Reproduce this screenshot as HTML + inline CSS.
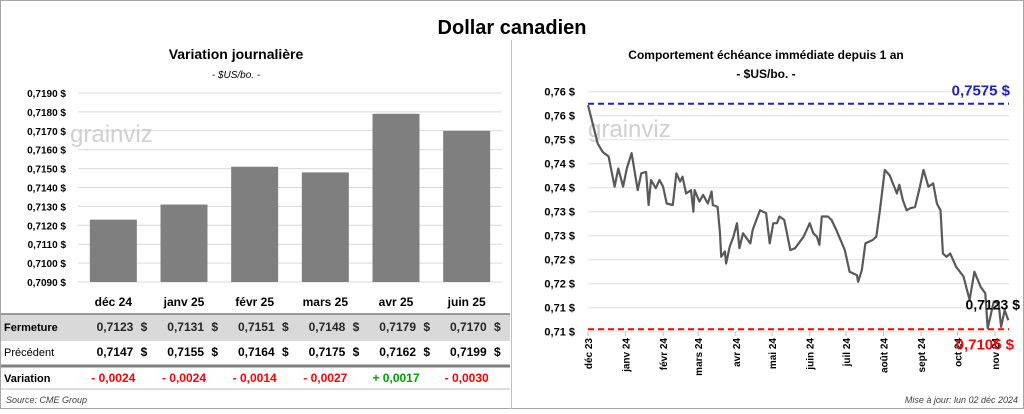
<!DOCTYPE html>
<html><head><meta charset="utf-8"><style>
body{margin:0;width:1024px;height:409px;background:#fff;font-family:"Liberation Sans",sans-serif;overflow:hidden}
svg text{font-family:"Liberation Sans",sans-serif}
</style></head><body>
<svg id="c" width="1024" height="409" viewBox="0 0 1024 409">
<rect x="0.5" y="0.5" width="1023" height="408" fill="#fff" stroke="#a6a6a6"/>
<line x1="511.5" y1="40" x2="511.5" y2="409" stroke="#bfbfbf"/>
<text x="512" y="34" text-anchor="middle" font-size="20" font-weight="bold">Dollar canadien</text>
<text x="236" y="59" text-anchor="middle" font-size="14" font-weight="bold">Variation  journalière</text>
<text x="236" y="78" text-anchor="middle" font-size="10" font-style="italic">- $US/bo. -</text>
<text x="766" y="59" text-anchor="middle" font-size="12" font-weight="bold">Comportement échéance immédiate depuis 1 an</text>
<text x="766" y="78" text-anchor="middle" font-size="12" font-weight="bold">- $US/bo. -</text>
<g id="left"></g>
<g id="table"></g>
<g id="right"></g>
<text x="6" y="403" font-size="9" font-style="italic" fill="#404040">Source: CME Group</text>
<text x="1018" y="403" text-anchor="end" font-size="9" font-style="italic" fill="#404040">Mise à jour: lun 02 déc 2024</text>
</svg>
<script>
const barCats=["déc 24","janv 25","févr 25","mars 25","avr 25","juin 25"];
const closeVals=[0.7123,0.7131,0.7151,0.7148,0.7179,0.7170];
const prevVals=[0.7147,0.7155,0.7164,0.7175,0.7162,0.7199];
const varVals=[-0.0024,-0.0024,-0.0014,-0.0027,0.0017,-0.0030];
const barTicks=[0.709,0.710,0.711,0.712,0.713,0.714,0.715,0.716,0.717,0.718,0.719];
const lineDays=[0,8,12,17,22,25,29,32,36,41,44,48,50,52,56,59,62,65,70,73,76,78,81,85,87,88,92,95,99,102,103,107,109,110,113,114,117,120,123,125,128,134,136,142,147,150,153,156,158,162,164,167,171,178,183,186,189,191,193,198,201,205,212,216,222,223,226,229,235,238,241,245,249,255,257,260,263,266,270,274,277,281,285,288,291,293,296,299,304,310,315,319,324,328,330,335,339,341,344,347];
const lineVals=[0.7572,0.7492,0.7475,0.7465,0.7402,0.7440,0.7402,0.7440,0.7472,0.7395,0.7430,0.7433,0.7364,0.7416,0.7399,0.7416,0.7402,0.7367,0.7364,0.7430,0.7413,0.7423,0.7388,0.7395,0.7350,0.7395,0.7371,0.7385,0.7367,0.7392,0.7364,0.7360,0.7305,0.7256,0.7267,0.7242,0.7277,0.7298,0.7326,0.7274,0.7305,0.7284,0.7312,0.7353,0.7347,0.7284,0.7326,0.7326,0.7340,0.7333,0.7308,0.7270,0.7274,0.7298,0.7326,0.7305,0.7298,0.7281,0.7340,0.7340,0.7333,0.7312,0.7270,0.7225,0.7218,0.7204,0.7228,0.7284,0.7291,0.7298,0.7353,0.7437,0.7426,0.7388,0.7406,0.7374,0.7353,0.7357,0.7360,0.7402,0.7437,0.7402,0.7409,0.7367,0.7353,0.7263,0.7256,0.7263,0.7235,0.7215,0.7166,0.7225,0.7194,0.7180,0.7107,0.7163,0.7159,0.7110,0.7145,0.7124];
const lineTicks=[0.71,0.715,0.72,0.725,0.73,0.735,0.74,0.745,0.75,0.755,0.76];
const monthLabels=["déc 23","janv 24","févr 24","mars 24","avr 24","mai 24","juin 24","juil 24","août 24","sept 24","oct 24","nov 24"];
const monthDays=[0,31,62,91,122,152,183,213,244,275,305,336];
const maxVal=0.7575, minVal=0.7105, lastVal=0.7123;

const NS="http://www.w3.org/2000/svg";
function mk(p,t,a,txt){const e=document.createElementNS(NS,t);for(const k in a)e.setAttribute(k,a[k]);if(txt!==undefined)e.textContent=txt;p.appendChild(e);return e;}
const fmt=(v,d)=>v.toFixed(d).replace('.',',');

const L=document.getElementById('left');
const lx0=78,lx1=502,ly=v=>282-(v-0.709)/0.010*189;
barTicks.forEach(t=>{
 const g=mk(L,'line',{x1:lx0,x2:lx1,y1:ly(t),y2:ly(t),stroke:'#d9d9d9'});
 
 
 const tx=mk(L,'text',{x:66,y:ly(t)+4,'text-anchor':'end','font-size':'10','font-weight':'bold'},fmt(t,4)+' $');
 
 
});
const cw=(lx1-lx0)/barCats.length;
const w1=mk(L,'text',{x:70,y:142,'font-size':'24',fill:'#d0d0d0'},'grainviz');


const w2=mk(document.getElementById('right'),'text',{x:588,y:137,'font-size':'24',fill:'#d0d0d0'},'grainviz');


closeVals.forEach((v,i)=>{
 const x=lx0+cw*i+cw/2;
 const r=mk(L,'rect',{x:x-23.5,y:ly(v),width:47,height:282-ly(v),fill:'#7f7f7f'});
 
 
});

const T=document.getElementById('table');
mk(T,'rect',{x:1,y:314,width:509,height:27,fill:'#d9d9d9'});
mk(T,'line',{x1:1,x2:510,y1:314,y2:314,stroke:'#7f7f7f','stroke-width':1.5});
mk(T,'line',{x1:1,x2:510,y1:366,y2:366,stroke:'#7f7f7f','stroke-width':3});
mk(T,'line',{x1:1,x2:510,y1:389,y2:389,stroke:'#bfbfbf'});
const rl=[['Fermeture',331,'bold'],['Précédent',356,'normal'],['Variation',382,'bold']];
rl.forEach(r=>{const t=mk(T,'text',{x:4,y:r[1],'font-size':'11','font-weight':r[2]},r[0]);
 
 });
barCats.forEach((c,i)=>{
 const cx=lx0+cw*i+cw/2;
 const h=mk(T,'text',{x:cx,y:306,'text-anchor':'middle','font-size':'12','font-weight':'bold'},c);
 
 
 [[closeVals[i],331,'#262626'],[prevVals[i],356,'#000']].forEach(([v,y,col])=>{
  const t=mk(T,'text',{x:cx+20,y:y,'text-anchor':'end','font-size':'12','font-weight':'bold',fill:col},fmt(v,4));
  
  
  const d=mk(T,'text',{x:cx+34,y:y,'text-anchor':'end','font-size':'12','font-weight':'bold',fill:col},'$');
  
  
 });
 const dv=varVals[i];
 const vt=mk(T,'text',{x:cx,y:382,'text-anchor':'middle','font-size':'12','font-weight':'bold',fill:dv>=0?'#00a000':'#ff0000'},(dv>=0?'+ ':'- ')+fmt(Math.abs(dv),4));
 
 
});

const R=document.getElementById('right');
const rx=d=>588+d*407/336, ry=v=>331.7-(v-0.71)/0.05*240;
lineTicks.forEach(t=>{
 const g=mk(R,'line',{x1:588,x2:1009,y1:ry(t),y2:ry(t),stroke:'#e0e0e0'});
 
 
 const tx=mk(R,'text',{x:575,y:ry(t)+4,'text-anchor':'end','font-size':'11','font-weight':'bold'},fmt(t,2)+' $');
 
 
});
monthDays.forEach((d,i)=>{
 const x=rx(d);
 mk(R,'line',{x1:x,x2:x,y1:332,y2:336,stroke:'#bfbfbf'});
 const t=mk(R,'text',{transform:`translate(${x+4},338) rotate(-90)`,'text-anchor':'end','font-size':'10','font-weight':'bold'},monthLabels[i]);
 
 
});
const bl=mk(R,'line',{x1:588,x2:1009,y1:ry(maxVal),y2:ry(maxVal),stroke:'#2020c0','stroke-width':2,'stroke-dasharray':'6,4'});


const rl2=mk(R,'line',{x1:588,x2:1009,y1:ry(minVal),y2:ry(minVal),stroke:'#ff0000','stroke-width':2,'stroke-dasharray':'6,4'});


const pts=lineDays.map((d,i)=>rx(d).toFixed(1)+','+ry(lineVals[i]).toFixed(1)).join(' ');
const pl=mk(R,'polyline',{points:pts,fill:'none',stroke:'#595959','stroke-width':2.2,'stroke-linejoin':'round'});


const mt=mk(R,'text',{x:1010,y:ry(maxVal)-8,'text-anchor':'end','font-size':'15','font-weight':'bold',fill:'#2020c0'},fmt(maxVal,4)+' $');


const nt=mk(R,'text',{x:1014,y:ry(minVal)+20,'text-anchor':'end','font-size':'15','font-weight':'bold',fill:'#ff0000'},fmt(minVal,4)+' $');


const lt=mk(R,'text',{x:1020,y:ry(lastVal)-11,'text-anchor':'end','font-size':'14','font-weight':'bold',fill:'#000'},fmt(lastVal,4)+' $');


</script>
</body></html>
